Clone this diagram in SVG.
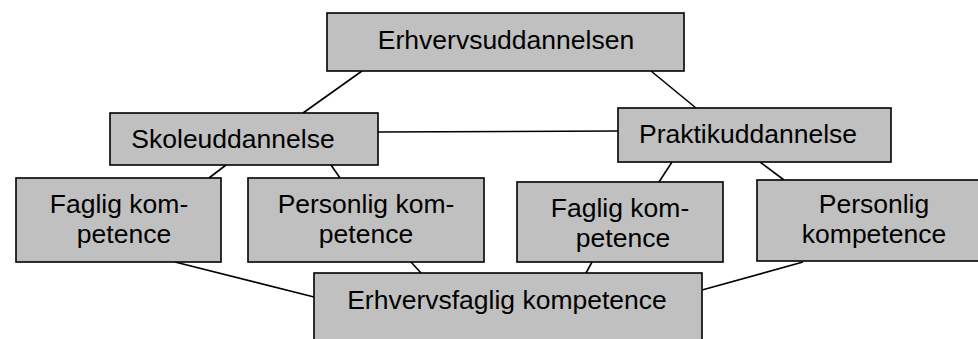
<svg xmlns="http://www.w3.org/2000/svg" width="978" height="339" viewBox="0 0 978 339">
<style>
.box{fill:#C0C0C0;stroke:#000;stroke-width:1.6}
.t{font-family:"Liberation Sans",Arial,sans-serif;font-size:26.5px;fill:#000;text-anchor:middle}
.c{stroke:#000;stroke-width:1.6;fill:none}
</style>
<rect width="978" height="339" fill="#fff"/>
<g id="connectors">
<line class="c" x1="362" y1="71" x2="303" y2="113"/>
<line class="c" x1="651" y1="71" x2="696" y2="108"/>
<line class="c" x1="378" y1="132" x2="618" y2="131"/>
<line class="c" x1="226" y1="165" x2="209" y2="178"/>
<line class="c" x1="331" y1="165" x2="340" y2="178"/>
<line class="c" x1="672" y1="162" x2="659" y2="182"/>
<line class="c" x1="760" y1="162" x2="784" y2="180"/>
<line class="c" x1="175" y1="262" x2="314" y2="297"/>
<line class="c" x1="411" y1="262" x2="421" y2="273"/>
<line class="c" x1="592" y1="262" x2="586" y2="273"/>
<line class="c" x1="803" y1="262" x2="702" y2="290"/>
</g>
<g id="erhvervsuddannelsen">
<rect class="box" x="327" y="13" width="357" height="58"/>
<text class="t" x="506" y="49">Erhvervsuddannelsen</text>
</g>
<g id="skoleuddannelse">
<rect class="box" x="110" y="113" width="268" height="52"/>
<text class="t" x="233" y="148">Skoleuddannelse</text>
</g>
<g id="praktikuddannelse">
<rect class="box" x="618" y="108" width="273" height="54"/>
<text class="t" x="748" y="143">Praktikuddannelse</text>
</g>
<g id="faglig1">
<rect class="box" x="16" y="178" width="205" height="84"/>
<text class="t" x="119" y="213">Faglig kom-</text>
<text class="t" x="124" y="243">petence</text>
</g>
<g id="personlig1">
<rect class="box" x="248" y="178" width="236" height="84"/>
<text class="t" x="366" y="213">Personlig kom-</text>
<text class="t" x="366" y="243">petence</text>
</g>
<g id="faglig2">
<rect class="box" x="517" y="182" width="206" height="80"/>
<text class="t" x="620" y="217">Faglig kom-</text>
<text class="t" x="623" y="247">petence</text>
</g>
<g id="personlig2">
<rect class="box" x="757" y="180" width="240" height="81"/>
<text class="t" x="874" y="213">Personlig</text>
<text class="t" x="874" y="243">kompetence</text>
</g>
<g id="erhvervsfaglig">
<rect class="box" x="314" y="273" width="388" height="80"/>
<text class="t" x="507" y="309">Erhvervsfaglig kompetence</text>
</g>
</svg>
